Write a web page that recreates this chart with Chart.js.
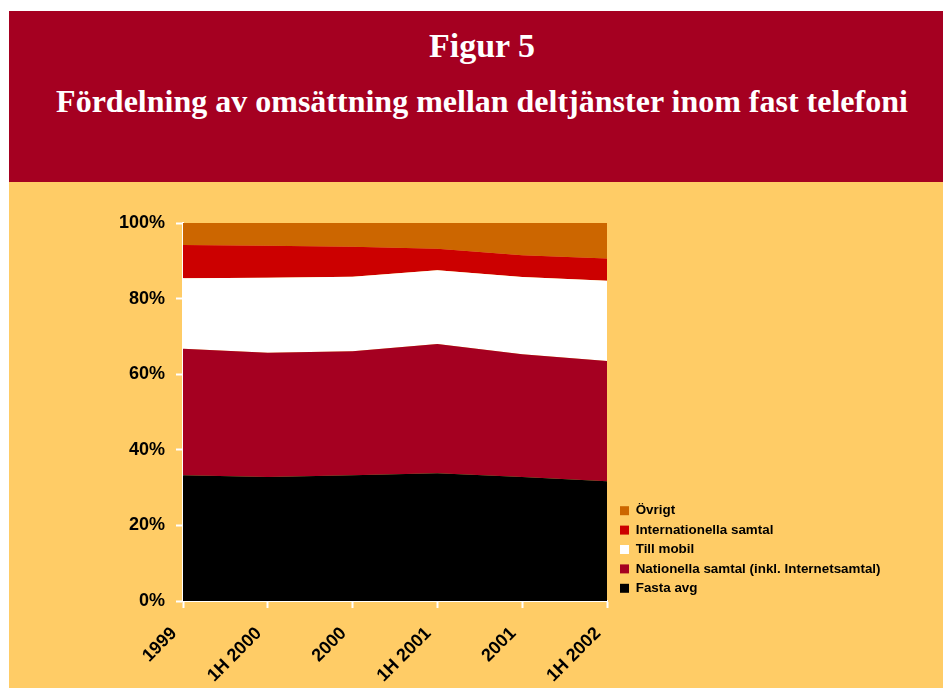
<!DOCTYPE html>
<html>
<head>
<meta charset="utf-8">
<script src="https://cdn.jsdelivr.net/npm/chart.js@4/dist/chart.umd.min.js"></script>
<style>
  html, body { margin: 0; padding: 0; background: #fff; width: 943px; height: 688px; overflow: hidden; }
  #header { position: absolute; left: 9px; top: 11px; width: 934px; height: 171px; background: #A50021; }
  .htxt { position: absolute; left: 0; width: 964px; text-align: center; color: #fff;
          font-family: 'Liberation Serif', 'Times New Roman', serif; font-weight: bold; white-space: nowrap; }
  #title { top: 29px; font-size: 34px; line-height: 34px; }
  #subtitle { top: 85px; font-size: 32px; line-height: 32px; }
  #wrap { position: absolute; left: 9px; top: 182px; width: 934px; height: 506px; background: #FFCC66; }
</style>
</head>
<body>
<div id="header"></div>
<div class="htxt" id="title">Figur 5</div>
<div class="htxt" id="subtitle">Fördelning av omsättning mellan deltjänster inom fast telefoni</div>
<div id="wrap"><canvas id="shareChart" width="934" height="506"></canvas></div>
<script>
var periods = ['1999', '1H 2000', '2000', '1H 2001', '2001', '1H 2002'];
var fastaAvg = [33.3, 32.8, 33.3, 33.8, 32.8, 31.7];
var nationella = [33.4, 32.9, 32.8, 34.2, 32.5, 31.8];
var tillMobil = [18.7, 19.8, 19.7, 19.5, 20.4, 21.2];
var internationella = [8.8, 8.5, 7.9, 5.7, 5.8, 5.9];
var ovrigt = [5.8, 6.0, 6.3, 6.8, 8.5, 9.4];
var yTicks = [0, 20, 40, 60, 80, 100];

function area(label, values, color, fill) {
  return {
    label: label,
    data: values,
    backgroundColor: color,
    borderColor: color,
    borderWidth: 0,
    pointRadius: 0,
    pointHoverRadius: 0,
    tension: 0,
    fill: fill
  };
}

var axisFont = { family: "'Liberation Sans', Arial, sans-serif", size: 18, weight: 'bold' };

// legend gets the whole strip right of the plot, shifted a bit off the plot edge
var legendPlace = {
  id: 'legendPlace',
  beforeInit: function(chart) {
    var fit = chart.legend.fit;
    chart.legend.fit = function() {
      fit.call(this);
      this.width = 336;
    };
  },
  afterLayout: function(chart) {
    chart.legend.left += 7;
    chart.legend.right += 7;
  }
};

var ctx = document.getElementById('shareChart').getContext('2d');
var chart = new Chart(ctx, {
  type: 'line',
  data: {
    labels: periods,
    datasets: [
      area('Fasta avg', fastaAvg, '#000000', 'origin'),
      area('Nationella samtal (inkl. Internetsamtal)', nationella, '#A50021', '-1'),
      area('Till mobil', tillMobil, '#FFFFFF', '-1'),
      area('Internationella samtal', internationella, '#CC0000', '-1'),
      area('Övrigt', ovrigt, '#CC6600', '-1')
    ]
  },
  options: {
    responsive: false,
    animation: false,
    layout: { padding: { top: 41, left: 0, right: 0, bottom: 0 } },
    plugins: {
      tooltip: { enabled: false },
      legend: {
        position: 'right',
        align: 'end',
        fullSize: false,
        reverse: true,
        labels: {
          boxWidth: 9,
          boxHeight: 9,
          padding: 6,
          color: '#000',
          font: { family: "'Liberation Sans', Arial, sans-serif", size: 13.4, weight: 'bold' }
        }
      }
    },
    scales: {
      x: {
        offset: false,
        grid: { drawOnChartArea: false, color: 'transparent', tickColor: '#fff', tickLength: 7, tickWidth: 2 },
        border: { color: '#fff', width: 2 },
        ticks: { color: '#000', font: axisFont, minRotation: 45, maxRotation: 45, padding: 15, labelOffset: -9 },
        afterFit: function(s) { s.height = 87; }
      },
      y: {
        stacked: true,
        min: 0,
        max: 100,
        grid: { drawOnChartArea: false, color: 'transparent', tickColor: '#fff', tickLength: 7, tickWidth: 2 },
        border: { color: '#fff', width: 2 },
        afterBuildTicks: function(s) { s.ticks = yTicks.map(function(v) { return { value: v }; }); },
        ticks: {
          color: '#000',
          font: axisFont,
          padding: 11,
          callback: function(v) { return v + '%'; }
        },
        afterFit: function(s) { s.width = 174; }
      }
    }
  },
  plugins: [legendPlace]
});
</script>
</body>
</html>
